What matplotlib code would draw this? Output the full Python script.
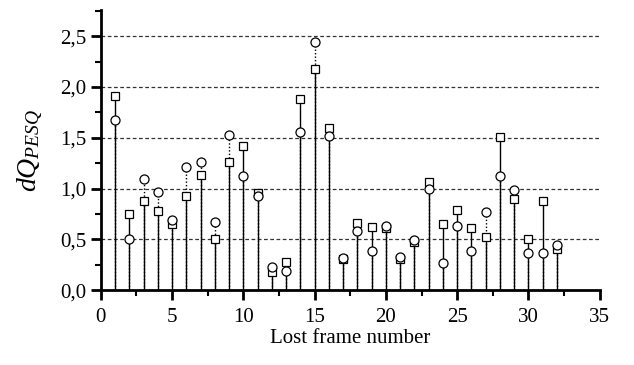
import matplotlib.pyplot as plt
import numpy as np
from matplotlib.ticker import MultipleLocator, FuncFormatter

frames = np.arange(1, 33)
squares = [1.91, 0.75, 0.88, 0.78, 0.65, 0.93, 1.13, 0.50, 1.26, 1.42, 0.96, 0.18,
           0.28, 1.88, 2.18, 1.60, 0.31, 0.66, 0.62, 0.61, 0.31, 0.47, 1.07, 0.65,
           0.79, 0.61, 0.52, 1.51, 0.90, 0.50, 0.88, 0.41]
circles = [1.68, 0.50, 1.09, 0.97, 0.69, 1.21, 1.26, 0.67, 1.53, 1.12, 0.93, 0.23,
           0.19, 1.56, 2.44, 1.52, 0.32, 0.58, 0.39, 0.63, 0.33, 0.49, 1.00, 0.27,
           0.63, 0.39, 0.77, 1.12, 0.99, 0.37, 0.37, 0.44]

plt.rcParams['font.family'] = 'Liberation Serif'
plt.rcParams['mathtext.fontset'] = 'custom'
plt.rcParams['mathtext.rm'] = 'Liberation Serif'
plt.rcParams['mathtext.it'] = 'Liberation Serif:italic'

fig = plt.figure(figsize=(6.34, 3.65), dpi=100)
ax = fig.add_axes([0.159, 0.205, 0.787, 0.768])

for y in [0.5, 1.0, 1.5, 2.0, 2.5]:
    ax.axhline(y, color='#333333', linestyle=(0, (3, 2)), linewidth=0.9, zorder=1)

ax.vlines(frames, 0, squares, colors='black', linewidth=1.0, zorder=2)
ax.vlines(frames, 0, circles, colors='black', linewidth=1.0, linestyles=(0, (1, 1.5)), zorder=2)
ax.plot(frames, squares, 's', markersize=5.5, markerfacecolor='white', markeredgecolor='black',
        markeredgewidth=0.9, linestyle='none', zorder=3)
ax.plot(frames, circles, 'o', markersize=6.5, markerfacecolor='white', markeredgecolor='black',
        markeredgewidth=0.9, linestyle='none', zorder=4)

ax.set_xlim(0, 35)
ax.set_ylim(0, 2.76)
ax.xaxis.set_major_locator(MultipleLocator(5))
ax.xaxis.set_minor_locator(MultipleLocator(2.5))
ax.yaxis.set_major_locator(MultipleLocator(0.5))
ax.yaxis.set_minor_locator(MultipleLocator(0.25))
ax.yaxis.set_major_formatter(FuncFormatter(lambda v, p: f"{v:.1f}".replace('.', ',')))

for s in ['top', 'right']:
    ax.spines[s].set_visible(False)
for s in ['left', 'bottom']:
    ax.spines[s].set_linewidth(2)

ax.tick_params(which='major', direction='out', length=7, width=2, labelsize=15)
ax.tick_params(which='minor', direction='out', length=4, width=1.5)
ax.tick_params(axis='x', pad=6)

ax.set_xlabel('Lost frame number', fontsize=15, labelpad=1)
ax.set_ylabel(r'$dQ_{PESQ}$', fontsize=20, labelpad=10)

fig.savefig('out.png', dpi=100)
